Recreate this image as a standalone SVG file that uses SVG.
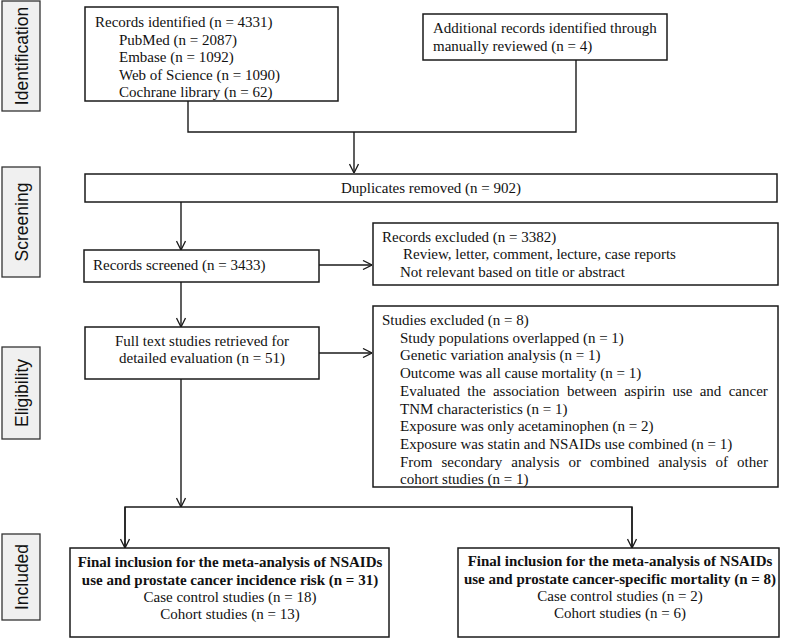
<svg xmlns="http://www.w3.org/2000/svg" width="785" height="639" viewBox="0 0 785 639">
<defs>
<style>
.box{fill:#fff;stroke:#1a1a1a;stroke-width:1.5}
.side{fill:#f0f0f0;stroke:#333;stroke-width:1.3}
.t{font-family:"Liberation Serif","Times New Roman",serif;font-size:15px;fill:#111}
.b{font-weight:bold}
.c{text-anchor:middle}
.s{font-family:"Liberation Sans",Arial,sans-serif;font-size:17.5px;fill:#111;text-anchor:middle}
.ln{fill:none;stroke:#1a1a1a;stroke-width:1.4}
.ar{marker-end:url(#ah)}
</style>
<marker id="ah" viewBox="0 0 10 10" refX="10" refY="5" markerWidth="10" markerHeight="10" markerUnits="userSpaceOnUse" orient="auto">
<path d="M1,0.5 L10,5 L1,9.5" fill="none" stroke="#1a1a1a" stroke-width="1.3"/>
</marker>
</defs>
<rect width="785" height="639" fill="#fff"/>

<g id="label-identification">
<rect class="side" x="2" y="1" width="38" height="110"/>
<text class="s" transform="translate(27.5,56) rotate(-90)">Identification</text>
</g>
<g id="label-screening">
<rect class="side" x="2" y="167" width="38" height="110"/>
<text class="s" transform="translate(27.5,222) rotate(-90)">Screening</text>
</g>
<g id="label-eligibility">
<rect class="side" x="2" y="347" width="38" height="92"/>
<text class="s" transform="translate(27.5,393) rotate(-90)">Eligibility</text>
</g>
<g id="label-included">
<rect class="side" x="2" y="534" width="38" height="86"/>
<text class="s" transform="translate(27.5,577) rotate(-90)">Included</text>
</g>

<g id="connectors">
<polyline class="ln" points="188,101 188,132 576,132 576,60"/>
<line class="ln ar" x1="354" y1="132" x2="354" y2="173"/>
<line class="ln ar" x1="181" y1="202" x2="181" y2="250"/>
<line class="ln ar" x1="319" y1="265" x2="372" y2="265"/>
<line class="ln ar" x1="181" y1="282" x2="181" y2="327"/>
<line class="ln ar" x1="319" y1="353" x2="372" y2="353"/>
<line class="ln ar" x1="181" y1="379" x2="181" y2="507"/>
<polyline class="ln" points="125,548 125,507 632,507 632,548"/>
<line class="ln ar" x1="125" y1="507" x2="125" y2="548"/>
<line class="ln ar" x1="632" y1="507" x2="632" y2="548"/>
</g>

<g id="records-identified">
<rect class="box" x="85" y="7" width="253" height="94"/>
<text class="t" x="95" y="27">Records identified (n = 4331)</text>
<text class="t" x="119" y="44.5">PubMed (n = 2087)</text>
<text class="t" x="119" y="62">Embase (n = 1092)</text>
<text class="t" x="119" y="79.5">Web of Science (n = 1090)</text>
<text class="t" x="119" y="97">Cochrane library (n = 62)</text>
</g>

<g id="additional-records">
<rect class="box" x="423" y="14" width="244" height="46"/>
<text class="t" x="433" y="33">Additional records identified through</text>
<text class="t" x="433" y="50.5">manually reviewed (n = 4)</text>
</g>

<g id="duplicates-removed">
<rect class="box" x="85" y="174" width="692" height="28"/>
<text class="t c" x="431" y="193">Duplicates removed (n = 902)</text>
</g>

<g id="records-screened">
<rect class="box" x="84" y="250" width="235" height="32"/>
<text class="t" x="93" y="270">Records screened (n = 3433)</text>
</g>

<g id="records-excluded">
<rect class="box" x="373" y="223" width="405" height="62"/>
<text class="t" x="382" y="241.5">Records excluded (n = 3382)</text>
<text class="t" x="403" y="259">Review, letter, comment, lecture, case reports</text>
<text class="t" x="400" y="276.5">Not relevant based on title or abstract</text>
</g>

<g id="full-text">
<rect class="box" x="85" y="327" width="234" height="52"/>
<text class="t c" x="202" y="345.5">Full text studies retrieved for</text>
<text class="t c" x="202" y="363">detailed evaluation (n = 51)</text>
</g>

<g id="studies-excluded">
<rect class="box" x="373" y="306" width="405" height="181"/>
<text class="t" x="382" y="325">Studies excluded (n = 8)</text>
<text class="t" x="400" y="342.7">Study populations overlapped (n = 1)</text>
<text class="t" x="400" y="360.4">Genetic variation analysis (n = 1)</text>
<text class="t" x="400" y="378.1">Outcome was all cause mortality (n = 1)</text>
<text class="t" y="395.8"><tspan x="400">Evaluated</tspan> <tspan x="467.3">the</tspan> <tspan x="492.9">association</tspan> <tspan x="566.9">between</tspan> <tspan x="624.2">aspirin</tspan> <tspan x="672.4">use</tspan> <tspan x="699.7">and</tspan> <tspan x="728.7">cancer</tspan></text>
<text class="t" x="400" y="413.5">TNM characteristics (n = 1)</text>
<text class="t" x="400" y="431.2">Exposure was only acetaminophen (n = 2)</text>
<text class="t" x="400" y="448.9">Exposure was statin and NSAIDs use combined (n = 1)</text>
<text class="t" y="466.6"><tspan x="400">From</tspan> <tspan x="441.5">secondary</tspan> <tspan x="511.3">analysis</tspan> <tspan x="568.6">or</tspan> <tspan x="590.1">combined</tspan> <tspan x="658.3">analysis</tspan> <tspan x="715.6">of</tspan> <tspan x="737.1">other</tspan></text>
<text class="t" x="400" y="484.3">cohort studies (n = 1)</text>
</g>

<g id="final-incidence">
<rect class="box" x="70" y="548" width="319" height="89"/>
<text class="t b c" x="230" y="567">Final inclusion for the meta-analysis of NSAIDs</text>
<text class="t b c" x="230" y="585">use and prostate cancer incidence risk (n = 31)</text>
<text class="t c" x="230" y="602">Case control studies (n = 18)</text>
<text class="t c" x="230" y="619">Cohort studies (n = 13)</text>
</g>

<g id="final-mortality">
<rect class="box" x="458" y="548" width="321" height="89"/>
<text class="t b c" x="620" y="566">Final inclusion for the meta-analysis of NSAIDs</text>
<text class="t b c" x="620" y="584">use and prostate cancer-specific mortality (n = 8)</text>
<text class="t c" x="620" y="601">Case control studies (n = 2)</text>
<text class="t c" x="620" y="618">Cohort studies (n = 6)</text>
</g>
</svg>
